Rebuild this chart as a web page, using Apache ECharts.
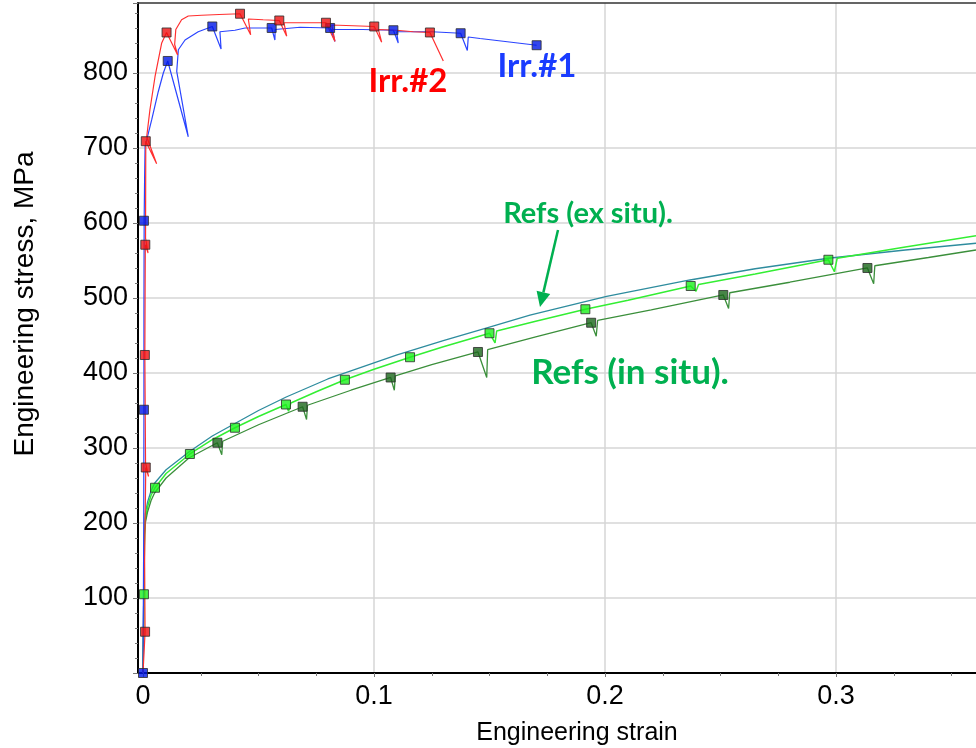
<!DOCTYPE html>
<html>
<head>
<meta charset="utf-8">
<script src="https://cdn.jsdelivr.net/npm/echarts@6/dist/echarts.min.js"></script>
<style>
  html, body { margin: 0; padding: 0; background: #ffffff; }
  #chart { width: 976px; height: 748px; }
</style>
</head>
<body>
<div id="chart"></div>
<script>
// Tick values shown on the axes
const strainTicks = [0, 0.1, 0.2, 0.3];
const stressTicks = [100, 200, 300, 400, 500, 600, 700, 800];

// Irradiated specimen #1 (blue)
const irr1Strain = [0, 0.0003, 0.0004, 0.0004, 0.0005, 0.0007, 0.0009, 0.0038, 0.0066, 0.0088,
  0.0107, 0.0196, 0.0146, 0.0153, 0.0182, 0.0239, 0.0300, 0.0338, 0.0333, 0.0398,
  0.0442, 0.0557, 0.0571, 0.0572, 0.0680, 0.0810, 0.0831, 0.0817, 0.0950, 0.1084,
  0.1105, 0.1098, 0.1250, 0.1375, 0.1404, 0.1408, 0.1459, 0.1704];
const irr1Stress = [0, 180, 351, 480, 603, 660, 702, 738, 775, 800,
  816, 715, 802, 831, 844, 855, 862, 832, 855, 857,
  860, 860, 844, 858, 861, 860, 842, 858, 858, 857,
  840, 855, 855, 853, 830, 848, 846, 837];
const irr1MarkStrain = [0, 0.0004, 0.0004, 0.0107, 0.0300, 0.0557, 0.0810, 0.1084, 0.1375, 0.1704];
const irr1MarkStress = [0, 351, 603, 816, 862, 860, 860, 857, 853, 837];

// Irradiated specimen #2 (red)
const irr2Strain = [0, 0.0005, 0.0009, 0.0007, 0.0012, 0.0024, 0.0011, 0.0008, 0.0009, 0.0010,
  0.0022, 0.0011, 0.0012, 0.0059, 0.0016, 0.0030, 0.0052, 0.0081, 0.0102, 0.0150,
  0.0137, 0.0142, 0.0167, 0.0196, 0.0254, 0.0330, 0.0420, 0.0466, 0.0456, 0.0520,
  0.0590, 0.0622, 0.0610, 0.0694, 0.0792, 0.0831, 0.0817, 0.0910, 0.1001, 0.1033,
  0.1019, 0.1098, 0.1170, 0.1242, 0.1300];
const irr2Stress = [0, 30, 55, 150, 274, 262, 280, 424, 500, 571,
  560, 580, 709, 679, 715, 751, 795, 840, 854, 824,
  838, 858, 871, 876, 877, 878, 879, 851, 872, 871,
  870, 849, 867, 867, 867, 842, 864, 863, 862, 841,
  858, 857, 855, 854, 816];
const irr2MarkStrain = [0.0009, 0.0012, 0.0008, 0.0010, 0.0012, 0.0102, 0.0420, 0.0590, 0.0792, 0.1001, 0.1242];
const irr2MarkStress = [55, 274, 424, 571, 709, 854, 879, 870, 867, 862, 854];

// Reference, ex situ (teal, no markers)
const refExAStrain = [0, 0.0003, 0.0006, 0.0010, 0.0020, 0.0035, 0.0050, 0.0100, 0.0200, 0.0300,
  0.0400, 0.0500, 0.0620, 0.0800, 0.0950, 0.1100, 0.1300, 0.1500, 0.1675, 0.2007,
  0.2368, 0.2650, 0.2967, 0.3300, 0.3606];
const refExAStress = [0, 100, 190, 212, 228, 243, 253, 271, 295, 316,
  333, 350, 368, 392, 408, 424, 443, 461, 477, 502,
  524, 539, 553, 564, 573];

// Reference, ex situ (light green)
const refExBStrain = [0, 0.0003, 0.0004, 0.0006, 0.0010, 0.0020, 0.0035, 0.0052, 0.0100, 0.0203,
  0.0300, 0.0398, 0.0500, 0.0619, 0.0630, 0.0640, 0.0750, 0.0874, 0.1000, 0.1156,
  0.1300, 0.1500, 0.1524, 0.1531, 0.1700, 0.1915, 0.2100, 0.2371, 0.2394, 0.2405,
  0.2650, 0.2967, 0.2993, 0.3005, 0.3300, 0.3606];
const refExBStress = [0, 60, 105, 170, 205, 222, 237, 247, 266, 292,
  311, 327, 342, 358, 349, 360, 375, 391, 405, 421,
  435, 453, 440, 456, 469, 485, 497, 516, 509, 518,
  532, 551, 535, 553, 568, 583];
const refExBMarkStrain = [0.0004, 0.0052, 0.0203, 0.0398, 0.0619, 0.0874, 0.1156, 0.1500, 0.1915, 0.2371, 0.2967];
const refExBMarkStress = [105, 247, 292, 327, 358, 391, 421, 453, 485, 516, 551];

// Reference, in situ (dark green)
const refInStrain = [0, 0.0003, 0.0006, 0.0010, 0.0020, 0.0035, 0.0050, 0.0100, 0.0200, 0.0322,
  0.0341, 0.0345, 0.0500, 0.0691, 0.0708, 0.0712, 0.0900, 0.1072, 0.1088, 0.1092,
  0.1250, 0.1450, 0.1488, 0.1492, 0.1700, 0.1940, 0.1962, 0.1968, 0.2200, 0.2512,
  0.2535, 0.2540, 0.2800, 0.3136, 0.3163, 0.3168, 0.3400, 0.3606];
const refInStress = [0, 100, 185, 200, 215, 230, 240, 260, 287, 307,
  291, 309, 331, 355, 338, 357, 377, 394, 377, 396,
  411, 428, 394, 431, 448, 467, 449, 470, 484, 504,
  486, 507, 521, 540, 519, 543, 554, 564];
const refInMarkStrain = [0.0322, 0.0691, 0.1072, 0.1450, 0.1940, 0.2512, 0.3136];
const refInMarkStress = [307, 355, 394, 428, 467, 504, 540];

// Axis ranges
const STRAIN_MAX = 0.3606;
const STRESS_MAX = 893.3;

const pairs = (xs, ys) => xs.map((x, i) => [x, ys[i]]);

const AXIS_FONT = 'Liberation Sans, Arial, sans-serif';
const NOTE_FONT = 'Lato, "Open Sans", sans-serif';
const GREEN_NOTE = '#00b050';

function curve(name, xs, ys, color, width) {
  return {
    name, type: 'line', xAxisIndex: 2, yAxisIndex: 1,
    data: pairs(xs, ys), showSymbol: false, symbol: 'none',
    lineStyle: { color, width }, silent: true, animation: false, z: 3
  };
}
function markers(name, xs, ys, fill) {
  return {
    name, type: 'scatter', xAxisIndex: 2, yAxisIndex: 1,
    data: pairs(xs, ys), symbol: 'rect', symbolSize: 9, clip: false,
    itemStyle: { color: fill, borderColor: '#2a2a2a', borderWidth: 1 },
    silent: true, animation: false, z: 5
  };
}

const chart = echarts.init(document.getElementById('chart'));

const option = {
  backgroundColor: '#ffffff',
  animation: false,
  grid: [
    // frame grid: carries the stress axis and the outer border lines
    { left: 138, right: 0, top: 3, bottom: 75, containLabel: false },
    // data grid: strain 0 sits a few pixels right of the stress axis
    { left: 143, right: 0, top: 3, bottom: 75, containLabel: false }
  ],
  xAxis: [
    {
      gridIndex: 0, type: 'value', min: 0, max: 1, position: 'bottom',
      axisLine: { show: true, lineStyle: { color: '#000', width: 2 } },
      axisTick: { show: false }, axisLabel: { show: false }, splitLine: { show: false }
    },
    {
      gridIndex: 0, type: 'value', min: 0, max: 1, position: 'top',
      axisLine: { show: true, lineStyle: { color: '#333', width: 1.5 } },
      axisTick: { show: false }, axisLabel: { show: false }, splitLine: { show: false }
    },
    {
      gridIndex: 1, type: 'value', min: strainTicks[0], max: STRAIN_MAX,
      interval: strainTicks[1] - strainTicks[0], position: 'bottom',
      axisLine: { show: false },
      axisTick: { show: true, inside: false, length: 4, lineStyle: { color: '#777' } },
      minorTick: { show: true, splitNumber: 4, length: 3, lineStyle: { color: '#777' } },
      axisLabel: {
        show: true, margin: 10, showMaxLabel: false,
        fontFamily: AXIS_FONT, fontSize: 27, color: '#000',
        formatter: v => {
          const hit = strainTicks.find(t => Math.abs(t - v) < 1e-9);
          return hit === undefined ? '' : String(hit);
        }
      },
      splitLine: { show: true, showMinLine: false, showMaxLine: false, lineStyle: { color: '#d6d6d6', width: 1.5 } }
    }
  ],
  yAxis: [
    {
      gridIndex: 0, type: 'value', min: 0, max: STRESS_MAX,
      interval: stressTicks[1] - stressTicks[0],
      axisLine: { show: true, lineStyle: { color: '#000', width: 2 } },
      axisTick: { show: true, inside: false, length: 5, lineStyle: { color: '#777' } },
      minorTick: { show: true, splitNumber: 5, length: 3, lineStyle: { color: '#777' } },
      axisLabel: {
        show: true, margin: 10, showMinLabel: false, showMaxLabel: false,
        fontFamily: AXIS_FONT, fontSize: 27, color: '#000',
        formatter: v => {
          const hit = stressTicks.find(t => Math.abs(t - v) < 1e-6);
          return hit === undefined ? '' : String(hit);
        }
      },
      splitLine: { show: true, showMinLine: false, showMaxLine: false, lineStyle: { color: '#d6d6d6', width: 1.5 } }
    },
    {
      gridIndex: 1, type: 'value', min: 0, max: STRESS_MAX, show: false,
      splitLine: { show: false }
    }
  ],
  series: [
    curve('Ref ex situ A', refExAStrain, refExAStress, '#2e8c9e', 1.3),
    curve('Ref ex situ B', refExBStrain, refExBStress, '#33ee33', 1.5),
    curve('Ref in situ', refInStrain, refInStress, '#3b8f3b', 1.3),
    curve('Irr.#1', irr1Strain, irr1Stress, '#2a44ff', 1.2),
    curve('Irr.#2', irr2Strain, irr2Stress, '#ff3030', 1.2),
    markers('Ref ex situ B points', refExBMarkStrain, refExBMarkStress, '#1cf01c'),
    markers('Ref in situ points', refInMarkStrain, refInMarkStress, '#1a661a'),
    markers('Irr.#1 points', irr1MarkStrain, irr1MarkStress, '#0018e6'),
    markers('Irr.#2 points', irr2MarkStrain, irr2MarkStress, '#ee1010')
  ],
  graphic: [
    {
      type: 'text', x: 25, y: 304, rotation: Math.PI / 2, z: 10,
      style: { text: 'Engineering stress, MPa', font: '28px ' + AXIS_FONT, fill: '#000', align: 'center', verticalAlign: 'middle' }
    },
    {
      type: 'text', x: 577, y: 733, z: 10,
      style: { text: 'Engineering strain', font: '25px ' + AXIS_FONT, fill: '#000', align: 'center', verticalAlign: 'middle' }
    },
    {
      type: 'text', x: 408, y: 81, z: 10,
      style: { text: 'Irr.#2', font: 'bold 33px ' + NOTE_FONT, fill: '#ff0000', align: 'center', verticalAlign: 'middle' }
    },
    {
      type: 'text', x: 537, y: 66, z: 10,
      style: { text: 'Irr.#1', font: 'bold 33px ' + NOTE_FONT, fill: '#1a3cff', align: 'center', verticalAlign: 'middle' }
    },
    {
      type: 'text', x: 588, y: 214, z: 10,
      style: { text: 'Refs (ex situ).', font: 'bold 29px ' + NOTE_FONT, fill: GREEN_NOTE, align: 'center', verticalAlign: 'middle' }
    },
    {
      type: 'text', x: 630, y: 373, z: 10,
      style: { text: 'Refs (in situ).', font: 'bold 35px ' + NOTE_FONT, fill: GREEN_NOTE, align: 'center', verticalAlign: 'middle' }
    },
    {
      type: 'line', z: 10,
      shape: { x1: 558, y1: 230, x2: 543.4, y2: 292.4 },
      style: { stroke: GREEN_NOTE, lineWidth: 2.5 }
    },
    {
      type: 'polygon', z: 10,
      shape: { points: [[540, 307], [536.6, 290.8], [550.2, 294]] },
      style: { fill: GREEN_NOTE }
    }
  ]
};

chart.setOption(option);
</script>
</body>
</html>
